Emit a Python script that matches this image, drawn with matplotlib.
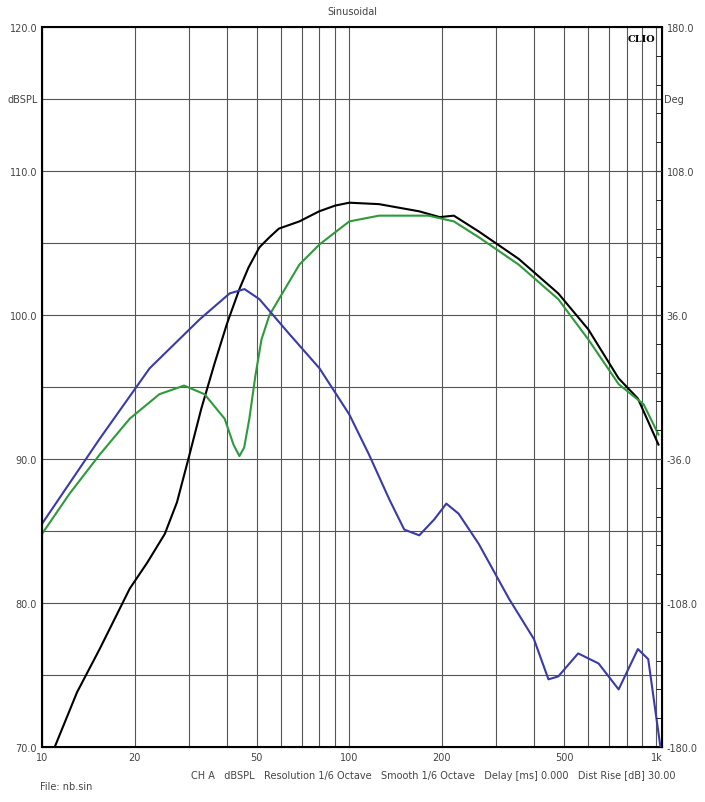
import numpy as np
import matplotlib.pyplot as plt
from matplotlib.ticker import FixedLocator, NullFormatter

# values (Hz, dBSPL)
black_f = [11.0, 13.0, 15.4, 19.3, 22.0, 25.1, 27.5, 30.2, 33.0, 36.4, 40.0, 43.9, 47.0, 51.0, 55.0, 59.0, 68.8, 79.8, 90, 100, 125, 169, 197, 219, 264, 356, 479, 600, 753, 870, 1015]
black_db = [70.0, 73.8, 76.8, 81.0, 82.8, 84.8, 87.0, 90.3, 93.5, 96.6, 99.4, 101.8, 103.3, 104.7, 105.4, 106.0, 106.5, 107.2, 107.6, 107.8, 107.7, 107.2, 106.8, 106.9, 105.8, 103.9, 101.5, 99.0, 95.6, 94.2, 91.0]

green_f = [10, 12.3, 15.4, 19.3, 24.1, 29, 33.8, 39.3, 42.0, 43.9, 45.5, 47.3, 49.5, 51.8, 55, 59, 68.8, 80, 100, 125, 181, 219, 264, 356, 479, 600, 753, 908, 1015]
green_db = [84.8, 87.6, 90.3, 92.8, 94.5, 95.1, 94.5, 92.8, 91.0, 90.2, 90.8, 92.8, 95.8, 98.3, 100.0, 101.1, 103.5, 104.9, 106.5, 106.9, 106.9, 106.5, 105.4, 103.5, 101.1, 98.3, 95.2, 93.8, 91.7]

blue_f = [10, 15.4, 22.4, 32.6, 40.8, 45.6, 51, 63.7, 80, 100, 116, 135, 151, 169, 189, 207, 227, 264, 331, 399, 445, 479, 556, 648, 753, 870, 940, 1030]
blue_db = [85.5, 91.4, 96.3, 99.7, 101.5, 101.8, 101.1, 98.7, 96.3, 93.1, 90.3, 87.2, 85.1, 84.7, 85.8, 86.9, 86.2, 84.1, 80.3, 77.5, 74.7, 74.9, 76.5, 75.8, 74.0, 76.8, 76.1, 70.0]

x_ticks = [10, 20, 50, 100, 200, 500, 1000]
x_labels = ["10", "20", "50", "100", "200", "500", "1k"]
y_ticks = [70, 80, 90, 100, 110, 120]
deg_labels = ["-180.0", "-108.0", "-36.0", "36.0", "108.0", "180.0"]

fig = plt.figure(figsize=(7.05, 8.03), dpi=100)
ax = fig.add_axes([0.0596, 0.0685, 0.879, 0.8966])
ax.set_xscale("log")
ax.set_xlim(10, 1040)
ax.set_ylim(70, 120)

grid_f = [f * m for m in (10, 100) for f in range(1, 10)] + [1000]
for f in grid_f:
    ax.axvline(f, color="#555555", lw=0.8, zorder=1)
for y in range(75, 120, 5):
    ax.axhline(y, color="#555555", lw=0.8, zorder=1)

ax.plot(black_f, black_db, color="black", lw=1.5, zorder=3)
ax.plot(green_f, green_db, color="#2e9a3a", lw=1.5, zorder=3)
ax.plot(blue_f, blue_db, color="#3a3aa8", lw=1.5, zorder=3)

ax.xaxis.set_major_locator(FixedLocator(x_ticks))
ax.set_xticklabels(x_labels)
ax.xaxis.set_minor_formatter(NullFormatter())
ax.set_yticks(y_ticks)
ax.set_yticklabels([f"{v:.1f}" for v in y_ticks])
ax.tick_params(labelsize=7, colors="#444444", length=0)
ax.tick_params(axis="x", which="minor", length=0)

ax2 = ax.twinx()
ax2.set_ylim(-180, 180)
ax2.set_yticks([-180, -108, -36, 36, 108, 180])
ax2.set_yticklabels(deg_labels)
ax2.set_yticks(np.arange(-180, 181, 14.4), minor=True)
ax2.tick_params(labelsize=7, colors="#444444", length=5, direction="in")
ax2.tick_params(which="minor", length=4, direction="in")

for s in ax.spines.values():
    s.set_linewidth(1.5)

ax.text(10 * 0.97, 115, "dBSPL", ha="right", va="center", fontsize=7, color="#444444")
ax.text(1040 * 1.02, 115, "Deg", ha="left", va="center", fontsize=7, color="#444444")
ax.text(0.99, 0.99, "CLIO", transform=ax.transAxes, ha="right", va="top",
        fontsize=7, fontweight="bold", family="DejaVu Serif")
fig.text(0.5, 0.985, "Sinusoidal", ha="center", va="center", fontsize=7, color="#444444")
fig.text(0.615, 0.034, "CH A   dBSPL   Resolution 1/6 Octave   Smooth 1/6 Octave   Delay [ms] 0.000   Dist Rise [dB] 30.00",
         ha="center", va="center", fontsize=7, color="#444444")
fig.text(0.057, 0.020, "File: nb.sin", ha="left", va="center", fontsize=7, color="#444444")

fig.savefig("out.png", dpi=100)
